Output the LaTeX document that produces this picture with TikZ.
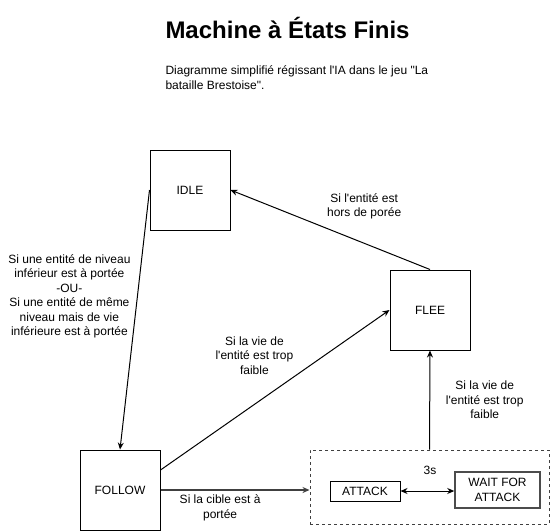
\documentclass[tikz,border=0pt]{standalone}
\usepackage{fontspec}
\setmainfont{Liberation Sans}[Ligatures=TeXOff]
\usetikzlibrary{positioning, arrows.meta}

\begin{document}
\begin{tikzpicture}[x=1pt, y=-1pt, line width=1pt,
    state/.style={draw, minimum width=80pt, minimum height=80pt, inner sep=0pt},
    action/.style={draw, align=center, inner sep=0pt},
    every node/.style={font=\fontsize{12}{14.4}\selectfont},
    cond/.style={align=center},
    arr/.style={-{Stealth[length=7pt, width=6pt]}}]

    \useasboundingbox (0,0) rectangle (551,531);

    % Title and subtitle
    \node[anchor=west, inner sep=0pt, font=\fontsize{24}{28}\bfseries] (title) at (165,28) {Machine à États Finis};
    \node[anchor=west, inner sep=0pt, align=left] (subtitle) at (165,77.5) {Diagramme simplifié régissant l'IA dans le jeu "La\\bataille Brestoise".};

    % States
    \node[state] (idle) at (190,190) {IDLE};
    \node[state] (flee) at (430,310) {FLEE};
    \node[state] (follow) at (120,490) {FOLLOW};
    \node[draw=black!75, dashed, dash pattern=on 3pt off 3pt, minimum width=239pt, minimum height=74pt, inner sep=0pt] (combat) at (429.5,487) {};
    \node[action, minimum width=70pt, minimum height=20pt] (attack) at (365,491) {ATTACK};
    \node[action, draw=black!70, line width=1.5pt, minimum width=85pt, minimum height=36pt] (wait) at (497.5,490) {WAIT FOR\\ATTACK};

    % Transitions
    \path[arr]
    (idle.west) edge node[cond, pos=0.41, xshift=-68pt]{Si une entité de niveau\\inférieur est à portée\\-OU-\\Si une entité de même\\niveau mais de vie\\inférieure est à portée} (follow.north)
    ([yshift=20pt]follow.east) edge node[cond, pos=0.41, yshift=49pt]{Si la vie de\\l'entité est trop\\faible} (flee.west)
    (flee.north) edge node[cond, pos=0.33, yshift=37pt]{Si l'entité est\\hors de porée} (idle.east)
    (combat.north) edge node[cond, pos=0.5, xshift=55pt]{Si la vie de\\l'entité est trop\\faible} (flee.south)
    (follow.east) edge[draw=black!75, line width=1.5pt] node[cond, pos=0.4, yshift=-18pt]{Si la cible est à\\portée} (follow.east -| combat.west);
    \draw[{Stealth[length=7pt, width=6pt]}-{Stealth[length=7pt, width=6pt]}] (attack.east) -- node[pos=0.55, yshift=21pt]{3s} (attack.east -| wait.west);

\end{tikzpicture}
\end{document}
